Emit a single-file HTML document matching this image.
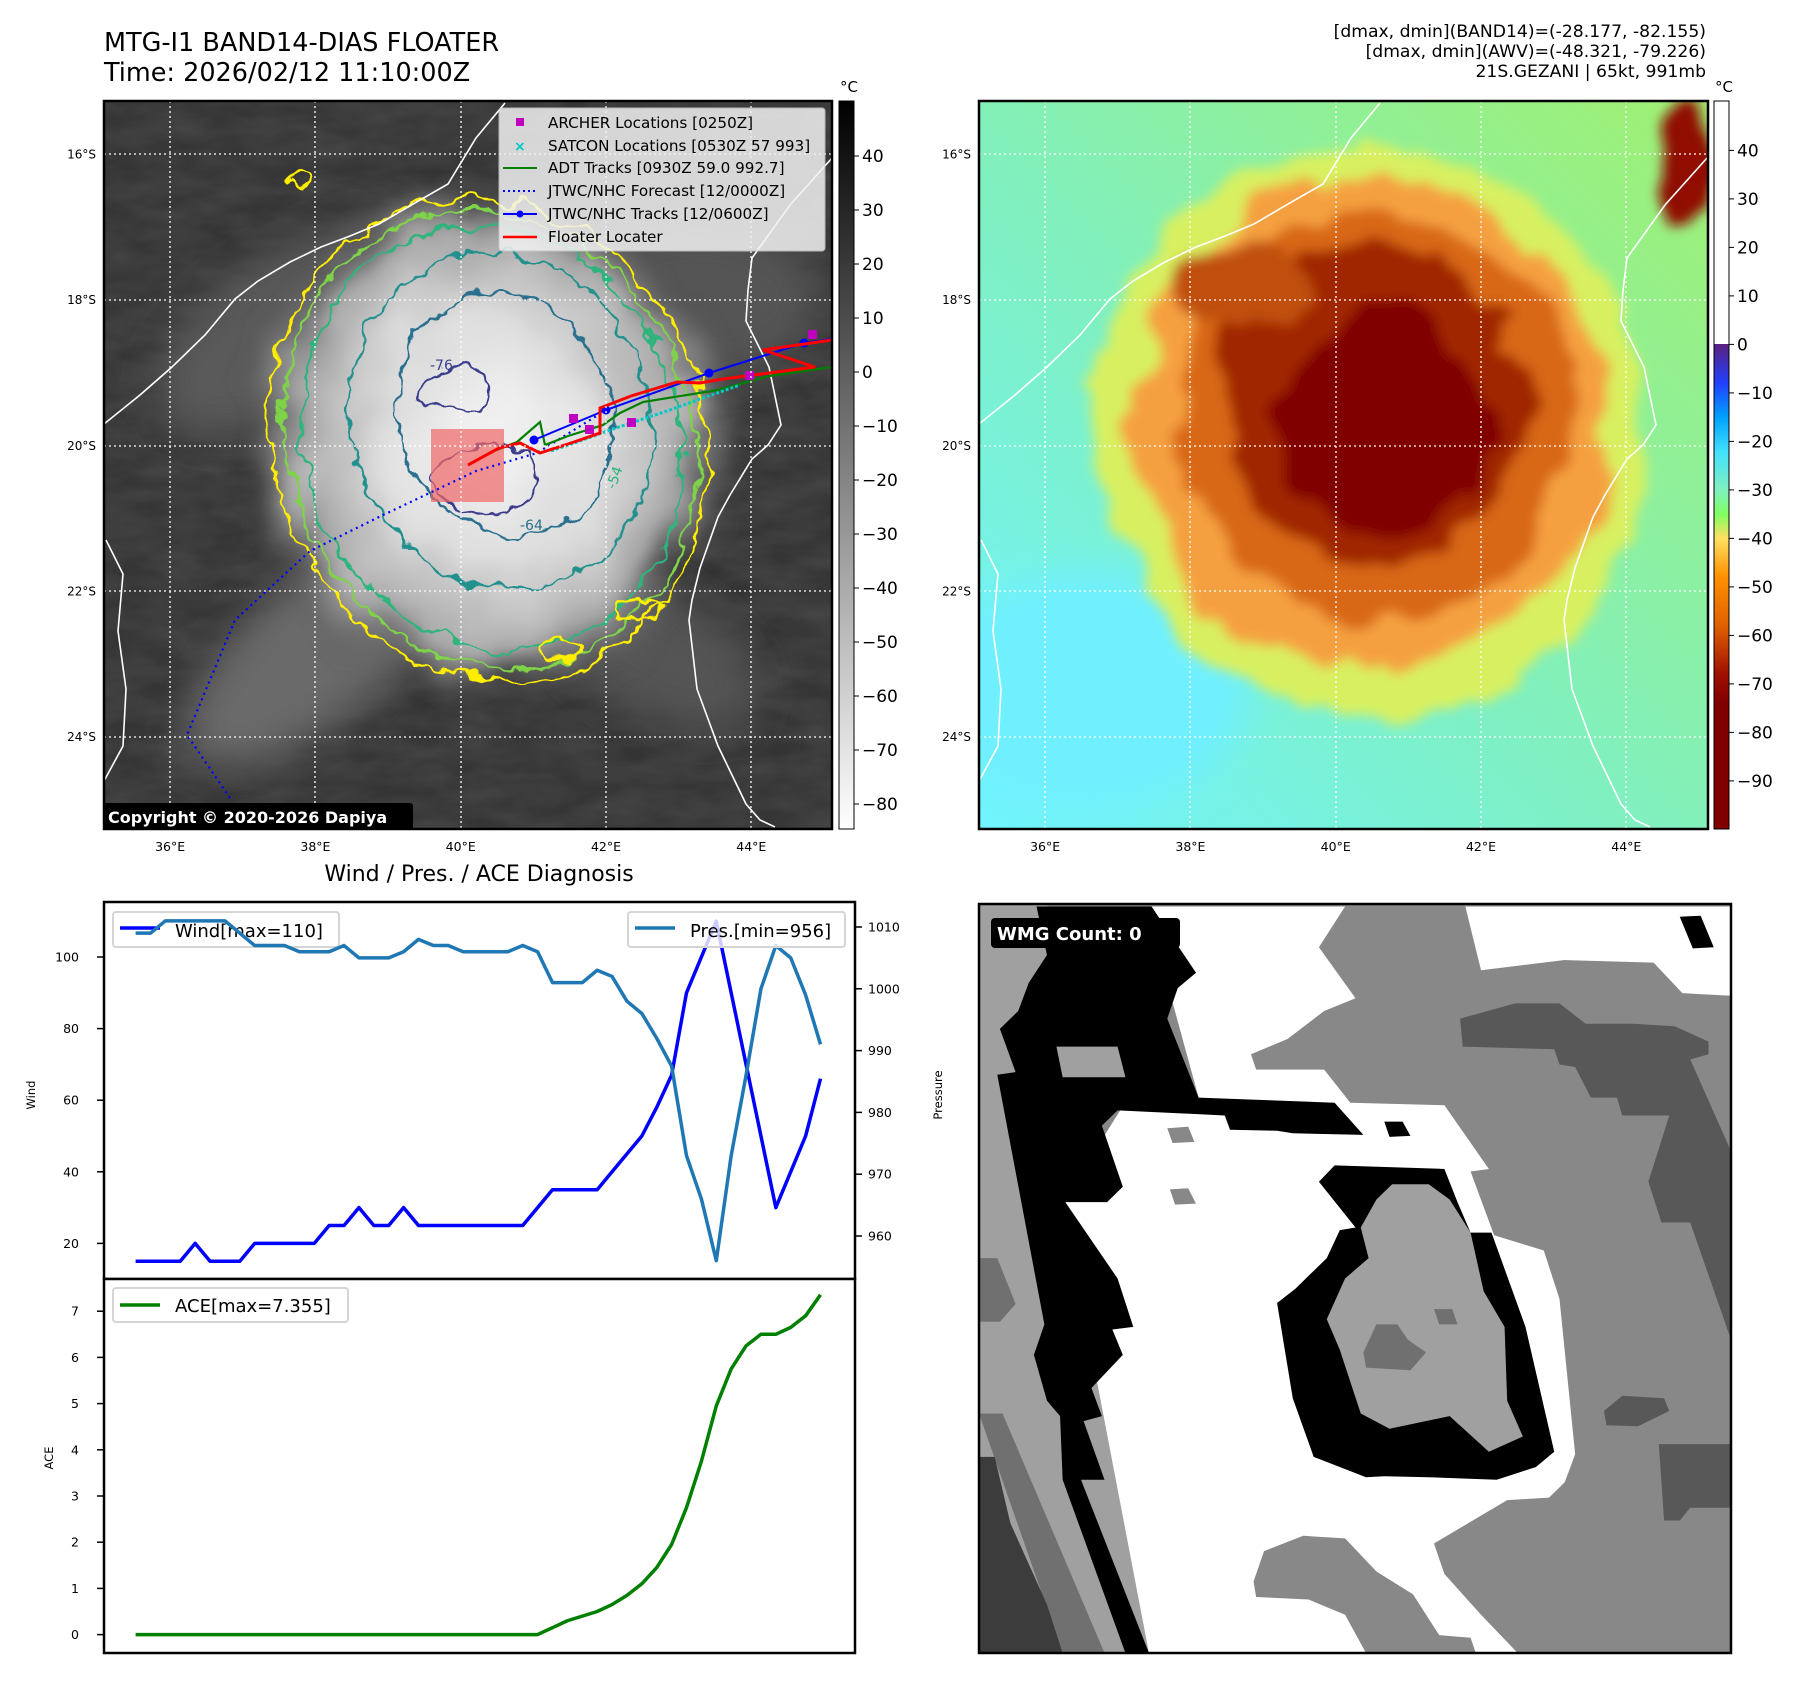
<!DOCTYPE html>
<html><head><meta charset="utf-8">
<style>
html,body{margin:0;padding:0;background:#fff;}
svg{display:block;font-family:"DejaVu Sans","Liberation Sans",sans-serif;}
</style></head>
<body>
<svg id="fig" width="1797" height="1690" viewBox="0 0 1797 1690" xmlns="http://www.w3.org/2000/svg">
<defs>
  <clipPath id="clipL"><rect x="104" y="101" width="728" height="728"/></clipPath>
  <clipPath id="clipR"><rect x="979" y="101" width="729" height="728"/></clipPath>
  <clipPath id="clipB"><rect x="979" y="904" width="752" height="749"/></clipPath>
  <filter id="blur20" x="-50%" y="-50%" width="200%" height="200%"><feGaussianBlur stdDeviation="20"/></filter>
  <filter id="blur10" x="-50%" y="-50%" width="200%" height="200%"><feGaussianBlur stdDeviation="10"/></filter>
  <filter id="wob" x="-20%" y="-20%" width="140%" height="140%">
    <feTurbulence type="fractalNoise" baseFrequency="0.035" numOctaves="3" seed="4"/>
    <feDisplacementMap in="SourceGraphic" scale="26" xChannelSelector="R" yChannelSelector="G"/>
  </filter>
  <filter id="wob2" x="-30%" y="-30%" width="160%" height="160%">
    <feTurbulence type="fractalNoise" baseFrequency="0.012" numOctaves="3" seed="9"/>
    <feDisplacementMap in="SourceGraphic" scale="70" xChannelSelector="R" yChannelSelector="G"/>
    <feGaussianBlur stdDeviation="6"/>
  </filter>
  <filter id="tex" x="0" y="0" width="100%" height="100%">
    <feTurbulence type="fractalNoise" baseFrequency="0.02 0.05" numOctaves="3" seed="7"/>
    <feColorMatrix type="matrix" values="0 0 0 0 0.5  0 0 0 0 0.5  0 0 0 0 0.5  0 0 0 0.5 -0.1"/>
  </filter>
  <radialGradient id="cloudG" cx="0.5" cy="0.5" r="0.5">
    <stop offset="0" stop-color="#f4f4f4"/>
    <stop offset="0.45" stop-color="#dedede"/>
    <stop offset="0.75" stop-color="#a8a8a8"/>
    <stop offset="1" stop-color="#505050" stop-opacity="0"/>
  </radialGradient>
  <linearGradient id="cbL" x1="0" y1="1" x2="0" y2="0">
    <stop offset="0" stop-color="#ffffff"/>
    <stop offset="1" stop-color="#000000"/>
  </linearGradient>
  <linearGradient id="cbR" x1="0" y1="1" x2="0" y2="0">
    <stop offset="0" stop-color="#800000"/>
    <stop offset="0.173" stop-color="#800000"/>
    <stop offset="0.213" stop-color="#a01000"/>
    <stop offset="0.279" stop-color="#e06000"/>
    <stop offset="0.346" stop-color="#ff9000"/>
    <stop offset="0.399" stop-color="#ffe060"/>
    <stop offset="0.432" stop-color="#80ff60"/>
    <stop offset="0.466" stop-color="#80f0c0"/>
    <stop offset="0.519" stop-color="#40e0ff"/>
    <stop offset="0.566" stop-color="#00a0ff"/>
    <stop offset="0.612" stop-color="#2040ff"/>
    <stop offset="0.666" stop-color="#5a2080"/>
    <stop offset="0.666" stop-color="#ffffff"/>
    <stop offset="1" stop-color="#ffffff"/>
  </linearGradient>
  <linearGradient id="bgR" x1="0" y1="1" x2="1" y2="0">
    <stop offset="0" stop-color="#70f4ff"/>
    <stop offset="0.45" stop-color="#80f0c0"/>
    <stop offset="1" stop-color="#a0f070"/>
  </linearGradient>
</defs>

<!-- Titles -->
<text x="104" y="51" font-size="25.5" fill="#000">MTG-I1 BAND14-DIAS FLOATER</text>
<text x="104" y="81" font-size="25.5" fill="#000">Time: 2026/02/12 11:10:00Z</text>
<g font-size="17.2" text-anchor="end" fill="#000">
  <text x="1706" y="37">[dmax, dmin](BAND14)=(-28.177, -82.155)</text>
  <text x="1706" y="57">[dmax, dmin](AWV)=(-48.321, -79.226)</text>
  <text x="1706" y="77">21S.GEZANI | 65kt, 991mb</text>
</g>

<!-- LEFT MAP -->
<g clip-path="url(#clipL)">
  <rect x="104" y="101" width="728" height="728" fill="#353535"/>
  <rect x="104" y="101" width="728" height="728" filter="url(#tex)" opacity="0.35"/>
  <g filter="url(#blur20)">
    <ellipse cx="330" cy="640" rx="180" ry="70" fill="#6a6a6a" transform="rotate(-40 330 640)"/>
    <ellipse cx="300" cy="330" rx="160" ry="80" fill="#5a5a5a" transform="rotate(-30 300 330)"/>
    <ellipse cx="650" cy="650" rx="120" ry="60" fill="#555" transform="rotate(30 650 650)"/>
    <ellipse cx="700" cy="300" rx="120" ry="80" fill="#555"/>
  </g>
  <ellipse cx="490" cy="440" rx="250" ry="270" fill="url(#cloudG)" transform="rotate(-15 490 440)" filter="url(#wob2)"/>
  <!-- contours -->
  <g fill="none" stroke-width="2.5" filter="url(#wob)">
    <ellipse cx="488" cy="440" rx="215" ry="245" stroke="#ffee00" transform="rotate(-20 488 440)"/>
    <ellipse cx="490" cy="440" rx="202" ry="232" stroke="#7ed348" transform="rotate(-20 490 440)"/>
    <ellipse cx="492" cy="438" rx="188" ry="215" stroke="#2fb47c" transform="rotate(-20 492 438)"/>
    <ellipse cx="500" cy="420" rx="150" ry="170" stroke="#21908d" transform="rotate(-20 500 420)"/>
    <ellipse cx="505" cy="415" rx="105" ry="125" stroke="#2c6f8e" transform="rotate(-20 505 415)"/>
    <ellipse cx="455" cy="390" rx="40" ry="22" stroke="#3b3d8c"/>
    <ellipse cx="485" cy="480" rx="50" ry="35" stroke="#3b3d8c"/>
    <ellipse cx="300" cy="180" rx="10" ry="8" stroke="#ffee00"/>
    <ellipse cx="640" cy="610" rx="25" ry="10" stroke="#ffee00"/>
    <ellipse cx="560" cy="650" rx="20" ry="8" stroke="#ffee00"/>
  </g>
  <g font-size="14" fill="#3b3d8c">
    <text x="430" y="370">-76</text>
    <text x="520" y="530" fill="#2c6f8e">-64</text>
    <text x="615" y="490" fill="#2fb47c" transform="rotate(-70 615 490)">-54</text>
  </g>
  <!-- coastlines -->
  <g fill="none" stroke="#fff" stroke-width="1.6">
    <polyline points="104,424 140,395 172,367 205,335 235,299 258,281 290,262 321,247 350,236 379,224 420,200 448,184 476,138 505,103"/>
    <polyline points="832,158 790,205 752,258 748,290 746,321 769,367 781,425 768,445 752,459 730,495 718,517 700,568 692,600 689,620 697,689 718,746 746,804 760,820 775,827"/>
    <polyline points="104,781 123,746 126,689 118,631 123,574 106,540"/>
  </g>
  <rect x="431" y="429" width="73" height="73" fill="#f06666" opacity="0.7"/>
  <polyline points="230,798 187,735 235,620 310,551 379,517 476,471 537,453 606,410" fill="none" stroke="#0000ff" stroke-width="2.2" stroke-dasharray="2 4"/>
  <polyline points="494,451 517,442 540,422 545,445 568,436 603,425 620,413 643,402 718,390 769,376 832,367" fill="none" stroke="#008000" stroke-width="2.2"/>
  <polyline points="551,451 580,441 610,430 640,420 670,410 700,399 740,385" fill="none" stroke="#00c8c8" stroke-width="3" stroke-dasharray="3 2"/>
  <polyline points="534,440 606,410 709,373 804,343 832,339" fill="none" stroke="#0000ff" stroke-width="2"/>
  <g fill="#0000ff"><circle cx="534" cy="440" r="4.5"/><circle cx="606" cy="410" r="4.5"/><circle cx="709" cy="373" r="4.5"/><circle cx="804" cy="343" r="4.5"/></g>
  <polyline points="468,465 499,448 520,443 540,453 574,442 600,433 600,408 631,396 677,382 700,383 723,379 769,373 815,367 763,350 832,340" fill="none" stroke="#ff0000" stroke-width="3"/>
  <g fill="#c000c0">
    <rect x="569" y="414" width="9" height="9"/><rect x="585" y="425" width="9" height="9"/><rect x="627" y="418" width="9" height="9"/><rect x="745" y="371" width="9" height="9"/><rect x="808" y="330" width="9" height="9"/>
  </g>
  <g stroke="#fff" stroke-width="1.3" stroke-dasharray="2 3">
    <line x1="170" y1="101" x2="170" y2="829"/><line x1="315" y1="101" x2="315" y2="829"/><line x1="461" y1="101" x2="461" y2="829"/><line x1="606" y1="101" x2="606" y2="829"/><line x1="751" y1="101" x2="751" y2="829"/>
    <line x1="104" y1="154" x2="832" y2="154"/><line x1="104" y1="300" x2="832" y2="300"/><line x1="104" y1="446" x2="832" y2="446"/><line x1="104" y1="591" x2="832" y2="591"/><line x1="104" y1="737" x2="832" y2="737"/>
  </g>
  <g>
    <rect x="499" y="108" width="326" height="143" rx="3" fill="#f2f2f2" opacity="0.85" stroke="#ccc"/>
    <g font-size="15.2" fill="#000">
      <rect x="516" y="118" width="8" height="8" fill="#c000c0"/><text x="548" y="128">ARCHER Locations [0250Z]</text>
      <text x="514" y="151" fill="#00c8c8" font-size="14" font-weight="bold">×</text><text x="548" y="151">SATCON Locations [0530Z 57 993]</text>
      <line x1="503" y1="168" x2="537" y2="168" stroke="#008000" stroke-width="2"/><text x="548" y="173">ADT Tracks [0930Z 59.0 992.7]</text>
      <line x1="503" y1="191" x2="537" y2="191" stroke="#0000ff" stroke-width="2" stroke-dasharray="2 3"/><text x="548" y="196">JTWC/NHC Forecast [12/0000Z]</text>
      <line x1="503" y1="214" x2="537" y2="214" stroke="#0000ff" stroke-width="2"/><circle cx="520" cy="214" r="3.5" fill="#0000ff"/><text x="548" y="219">JTWC/NHC Tracks [12/0600Z]</text>
      <line x1="503" y1="237" x2="537" y2="237" stroke="#ff0000" stroke-width="2.5"/><text x="548" y="242">Floater Locater</text>
    </g>
  </g>
  <rect x="102" y="803" width="311" height="28" rx="3" fill="#000"/>
  <text x="108" y="823" font-size="16" font-weight="bold" fill="#fff">Copyright © 2020-2026 Dapiya</text>
</g>
<rect x="104" y="101" width="728" height="728" fill="none" stroke="#000" stroke-width="2.5"/>

<rect x="839" y="101" width="15" height="728" fill="url(#cbL)" stroke="#000" stroke-width="1"/>
<text x="840" y="92" font-size="15">°C</text>
<g id="cbLticks" font-size="17"></g>

<g id="mapLabels" font-size="12.5" fill="#000"></g>

<!-- RIGHT MAP -->
<g clip-path="url(#clipR)">
  <rect x="979" y="101" width="729" height="728" fill="url(#bgR)"/>
  <ellipse cx="1090" cy="690" rx="160" ry="120" fill="#70f0ff" filter="url(#blur20)"/>
  <g filter="url(#wob2)">
    <ellipse cx="1370" cy="430" rx="275" ry="285" fill="#d8f060" transform="rotate(-15 1370 430)"/>
    <ellipse cx="1372" cy="425" rx="235" ry="245" fill="#f5a040" transform="rotate(-15 1372 425)"/>
    <ellipse cx="1375" cy="420" rx="195" ry="205" fill="#d86818" transform="rotate(-15 1375 420)"/>
    <ellipse cx="1370" cy="405" rx="150" ry="160" fill="#a02800" transform="rotate(-15 1370 405)"/>
    <ellipse cx="1390" cy="425" rx="110" ry="105" fill="#800000" transform="rotate(-15 1390 425)"/>
    <ellipse cx="1690" cy="170" rx="30" ry="70" fill="#900800"/>
    <ellipse cx="1240" cy="280" rx="70" ry="40" fill="#c05010"/>
  </g>
  <g fill="none" stroke="#fff" stroke-width="1.6">
    <polyline points="979,424 1015,395 1047,367 1080,335 1110,299 1133,281 1165,262 1196,247 1225,236 1254,224 1295,200 1323,184 1351,138 1380,103"/>
    <polyline points="1707,158 1665,205 1627,258 1623,290 1621,321 1644,367 1656,425 1643,445 1627,459 1605,495 1593,517 1575,568 1567,600 1564,620 1572,689 1593,746 1621,804 1635,820 1650,827"/>
    <polyline points="979,781 998,746 1001,689 993,631 998,574 981,540"/>
  </g>
  <g stroke="#fff" stroke-width="1.3" stroke-dasharray="2 3">
    <line x1="1045" y1="101" x2="1045" y2="829"/><line x1="1190" y1="101" x2="1190" y2="829"/><line x1="1336" y1="101" x2="1336" y2="829"/><line x1="1481" y1="101" x2="1481" y2="829"/><line x1="1626" y1="101" x2="1626" y2="829"/>
    <line x1="979" y1="154" x2="1708" y2="154"/><line x1="979" y1="300" x2="1708" y2="300"/><line x1="979" y1="446" x2="1708" y2="446"/><line x1="979" y1="591" x2="1708" y2="591"/><line x1="979" y1="737" x2="1708" y2="737"/>
  </g>
</g>
<rect x="979" y="101" width="729" height="728" fill="none" stroke="#000" stroke-width="2.5"/>
<rect x="1714" y="101" width="15" height="728" fill="url(#cbR)" stroke="#000" stroke-width="1"/>
<text x="1715" y="92" font-size="15">°C</text>
<g id="cbRticks" font-size="17"></g>

<text x="479" y="881" font-size="22" text-anchor="middle">Wind / Pres. / ACE Diagnosis</text>

<!-- BOTTOM LEFT CHARTS -->
<g id="chart">
  <rect x="104" y="902" width="751" height="377" fill="#fff" stroke="#000" stroke-width="2.5"/>
  <rect x="104" y="1279" width="751" height="374" fill="#fff" stroke="#000" stroke-width="2.5"/>
  <g id="ticks" font-size="12.5"></g>
  <g>
    <rect x="113" y="912" width="226" height="35" rx="3" fill="#fff" fill-opacity="0.8" stroke="#d5d5d5" stroke-width="2"/>
    <line x1="120" y1="928" x2="160" y2="928" stroke="#0000ff" stroke-width="3.5"/>
    <text x="175" y="937" font-size="18">Wind[max=110]</text>
  </g>
  <g id="series"></g>
  <text x="35" y="1095" font-size="11.5" transform="rotate(-90 35 1095)" text-anchor="middle">Wind</text>
  <text x="942" y="1095" font-size="11.5" transform="rotate(-90 942 1095)" text-anchor="middle">Pressure</text>
  <text x="53" y="1458" font-size="11.5" transform="rotate(-90 53 1458)" text-anchor="middle">ACE</text>
  <g>
    <rect x="628" y="912" width="217" height="35" rx="3" fill="#fff" fill-opacity="0.8" stroke="#d5d5d5" stroke-width="2"/>
    <line x1="635" y1="928" x2="675" y2="928" stroke="#1f77b4" stroke-width="3.5"/>
    <text x="690" y="937" font-size="18">Pres.[min=956]</text>
  </g>
  <g>
    <rect x="113" y="1288" width="235" height="34" rx="3" fill="#fff" fill-opacity="0.8" stroke="#d5d5d5" stroke-width="2"/>
    <line x1="120" y1="1305" x2="160" y2="1305" stroke="#008000" stroke-width="3.5"/>
    <text x="175" y="1312" font-size="18">ACE[max=7.355]</text>
  </g>
</g>

<!-- BOTTOM RIGHT WMG PANEL -->
<g clip-path="url(#clipB)">
  <svg x="979" y="904" width="752" height="749" viewBox="0 25 1438 1470" preserveAspectRatio="none">
    <rect x="0" y="25" width="1438" height="1470" fill="#888"/>
    <polygon points="0,25 130,25 330,1495 0,1495" fill="#a0a0a0"/>
    <polygon points="0,720 35,720 70,810 40,845 0,845" fill="#707070"/>
    <polygon points="0,1025 45,1025 240,1495 160,1495" fill="#707070"/>
    <polygon points="0,1110 30,1110 60,1240 130,1400 160,1495 0,1495" fill="#3c3c3c"/>
    <polygon points="320,30 700,30 650,110 720,210 660,235 590,290 520,320 530,350 660,350 710,415 890,420 975,545 940,550 985,675 1080,705 1110,800 1140,1105 1120,1160 1090,1190 1010,1195 870,1280 890,1340 960,1420 1030,1495 325,1495 160,610 270,430 420,405" fill="#fff"/>
    <polygon points="545,1295 620,1265 700,1270 760,1335 830,1380 880,1460 940,1465 950,1495 740,1495 700,1420 630,1390 530,1385 525,1355" fill="#888"/>
    <polygon points="930,30 1438,30 1438,205 1345,200 1290,140 1120,135 960,155" fill="#fff"/>
    <polygon points="110,30 330,30 415,160 380,190 360,250 420,405 680,415 735,478 600,475 570,470 480,468 470,440 265,430 235,460 275,580 245,610 165,610 265,760 295,855 255,860 275,910 215,975 235,1030 200,1040 240,1155 195,1155 325,1495 280,1495 160,1155 155,1030 130,1000 105,910 125,850 80,605 35,360 70,355 40,270 75,235 95,180 130,125" fill="#000"/>
    <polygon points="148,305 265,305 280,365 160,365" fill="#a0a0a0"/>
    <polygon points="775,452 810,452 825,480 785,482" fill="#000"/>
    <polygon points="360,465 400,462 412,492 370,494" fill="#888"/>
    <polygon points="365,585 400,583 415,613 375,615" fill="#888"/>
    <polygon points="680,538 890,545 915,610 940,670 980,670 1045,855 1100,1100 1065,1130 990,1155 860,1150 775,1148 740,1150 640,1110 600,995 570,808 605,780 635,750 665,720 690,665 720,660 650,570" fill="#000"/>
    <polygon points="790,575 860,575 900,605 940,670 965,785 1005,855 1010,1000 1040,1070 975,1100 900,1030 785,1055 730,1025 690,900 665,840 700,760 745,720 730,660 760,605" fill="#a0a0a0"/>
    <polygon points="735,905 760,850 800,850 820,880 855,905 825,940 740,935" fill="#707070"/>
    <polygon points="870,820 905,820 915,850 880,850" fill="#707070"/>
    <polygon points="920,250 1025,220 1110,220 1160,260 1250,260 1330,265 1395,295 1395,320 1360,330 1438,510 1438,880 1360,650 1305,650 1280,570 1320,440 1230,440 1220,405 1170,405 1140,345 1110,340 1100,310 925,305" fill="#585858"/>
    <polygon points="1300,1085 1438,1085 1438,1210 1360,1210 1340,1235 1310,1235" fill="#585858"/>
    <polygon points="1195,1020 1230,990 1310,995 1320,1020 1260,1050 1200,1048" fill="#585858"/>
    <polygon points="1340,50 1380,48 1405,110 1365,112" fill="#000"/>
  </svg>
  <rect x="991" y="918" width="189" height="30" rx="4" fill="#000"/>
  <text x="997" y="940" font-size="18" font-weight="bold" fill="#fff">WMG Count: 0</text>
</g>
<rect x="979" y="904" width="752" height="749" fill="none" stroke="#000" stroke-width="2.5"/>

<script>
// ===== chart data =====
const windValues = [15,15,15,15,20,15,15,15,20,20,20,20,20,25,25,30,25,25,30,25,25,25,25,25,25,25,25,30,35,35,35,35,40,45,50,58,67,90,100,110,90,70,50,30,40,50,66];
const presValues = [1009,1009,1011,1011,1011,1011,1011,1009,1007,1007,1007,1006,1006,1006,1007,1005,1005,1005,1006,1008,1007,1007,1006,1006,1006,1006,1007,1006,1001,1001,1001,1003,1002,998,996,992,987.5,973,966,956,973,986,1000,1007,1005,999,991];
const aceValues = [0,0,0,0,0,0,0,0,0,0,0,0,0,0,0,0,0,0,0,0,0,0,0,0,0,0,0,0,0.15,0.3,0.4,0.5,0.65,0.85,1.1,1.45,1.95,2.75,3.75,4.95,5.75,6.25,6.5,6.5,6.65,6.9,7.355];
const windTicks = [20,40,60,80,100];
const presTicks = [960,970,980,990,1000,1010];
const aceTicks = [0,1,2,3,4,5,6,7];
const cbLTicks = [40,30,20,10,0,-10,-20,-30,-40,-50,-60,-70,-80];
const cbRTicks = [40,30,20,10,0,-10,-20,-30,-40,-50,-60,-70,-80,-90];
const lonTicks = [36,38,40,42,44];
const latTicks = [16,18,20,22,24];

const NS = "http://www.w3.org/2000/svg";
function mk(tag, attrs, parent){const e=document.createElementNS(NS,tag);for(const k in attrs)e.setAttribute(k,attrs[k]);parent.appendChild(e);return e;}

const n = windValues.length;
function xPos(i){return 135.6 + i*(820.5-135.6)/(n-1);}
function yWind(v){return 957 + (100-v)*3.58;}
function yPres(p){return 927 + (1010-p)*6.18;}
function yAce(a){return 1634.6 - a*46.2;}
function lonX(l){return 104 + (l-35.09)*72.65;}
function latY(l){return 101 + (l-15.27)*72.8;}
function cbLY(v){return 156 + (40-v)*5.40;}
function cbRY(v){return 150.4 + (40-v)*4.85;}

const ticks = document.getElementById('ticks');
windTicks.forEach(v=>{
  const y=yWind(v);
  const l=mk('line',{x1:97,y1:y,x2:104,y2:y,stroke:'#000','stroke-width':1.5},ticks);
  
  
  const t=mk('text',{x:79,y:y+4.5,'text-anchor':'end'},ticks); t.textContent=v;
  
  
});
presTicks.forEach(v=>{
  const y=yPres(v);
  const l=mk('line',{x1:855,y1:y,x2:862,y2:y,stroke:'#000','stroke-width':1.5},ticks);
  
  
  const t=mk('text',{x:868,y:y+4.5},ticks); t.textContent=v;
  
  
});
aceTicks.forEach(v=>{
  const y=yAce(v);
  const l=mk('line',{x1:97,y1:y,x2:104,y2:y,stroke:'#000','stroke-width':1.5},ticks);
  
  
  const t=mk('text',{x:79,y:y+4.5,'text-anchor':'end'},ticks); t.textContent=v;
  
  
});

const series = document.getElementById('series');
const wl = mk('polyline',{points:windValues.map((v,i)=>xPos(i)+','+yWind(v)).join(' '),fill:'none',stroke:'#0000ff','stroke-width':3.5,'stroke-linejoin':'round'},series);


const pl = mk('polyline',{points:presValues.map((v,i)=>xPos(i)+','+yPres(v)).join(' '),fill:'none',stroke:'#1f77b4','stroke-width':3.5,'stroke-linejoin':'round'},series);


const al = mk('polyline',{points:aceValues.map((v,i)=>xPos(i)+','+yAce(v)).join(' '),fill:'none',stroke:'#008000','stroke-width':3.5,'stroke-linejoin':'round'},series);



const cL=document.getElementById('cbLticks');
cbLTicks.forEach(v=>{
  const y=cbLY(v);
  mk('line',{x1:854,y1:y,x2:859,y2:y,stroke:'#000','stroke-width':1},cL);
  const t=mk('text',{x:862,y:y+6},cL); t.textContent=(v<0?'\u2212'+(-v):v);
  
  
});
const cR=document.getElementById('cbRticks');
cbRTicks.forEach(v=>{
  const y=cbRY(v);
  mk('line',{x1:1729,y1:y,x2:1734,y2:y,stroke:'#000','stroke-width':1},cR);
  const t=mk('text',{x:1737,y:y+6},cR); t.textContent=(v<0?'\u2212'+(-v):v);
  
  
});

const ml=document.getElementById('mapLabels');
[0,875].forEach(off=>{
  lonTicks.forEach(l=>{
    const t=mk('text',{x:lonX(l)+off,y:851,'text-anchor':'middle'},ml); t.textContent=l+'°E';
    
    
  });
  latTicks.forEach(l=>{
    const t=mk('text',{x:96+off,y:latY(l)+4.5,'text-anchor':'end','font-size':12},ml); t.textContent=l+'°S';
    
    
  });
});
</script>
</svg>
</body></html>
